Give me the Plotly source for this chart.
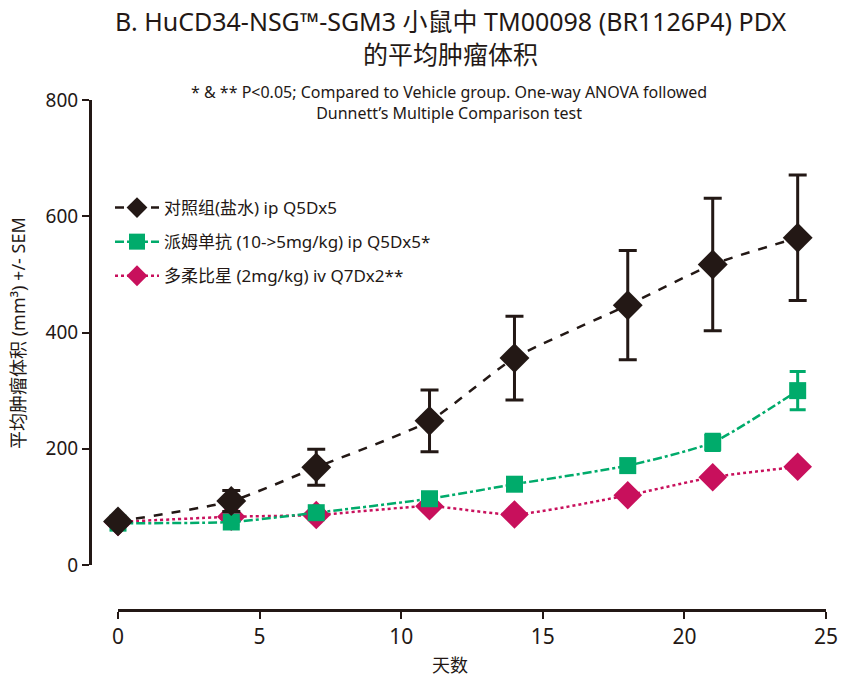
import plotly.graph_objects as go

days = [0, 4, 7, 11, 14, 18, 21, 24]

vehicle_mean = [75, 110, 168, 248, 356, 447, 517, 563]
vehicle_err = [6, 18, 31, 53, 72, 94, 114, 108]

pemb_mean = [72, 74, 90, 114, 139, 171, 211, 300]
pemb_err = [4, 5, 6, 8, 9, 11, 14, 33]

doxo_mean = [74, 83, 86, 101, 87, 120, 151, 169]

names = [
    "对照组(盐水) ip Q5Dx5",
    "派姆单抗 (10->5mg/kg) ip Q5Dx5*",
    "多柔比星 (2mg/kg) iv Q7Dx2**",
]
colors = ["#231815", "#00AB6B", "#C8105C"]

title_text = "B. HuCD34-NSG™-SGM3 小鼠中 TM00098 (BR1126P4) PDX<br>的平均肿瘤体积"
subtitle_text = "* & ** P<0.05; Compared to Vehicle group. One-way ANOVA followed<br>Dunnett’s Multiple Comparison test"
y_title = "平均肿瘤体积 (mm³) +/- SEM"
x_title = "天数"

FONT = "Noto Sans, Noto Sans CJK SC, sans-serif"
INK = "#231815"

fig = go.Figure()

# draw order: magenta bottom, then green, then black on top
fig.add_trace(go.Scatter(
    x=days, y=doxo_mean, name=names[2], mode="lines+markers",
    line=dict(color=colors[2], width=2.5, dash="dot", shape="spline", smoothing=0.6),
    marker=dict(symbol="diamond", size=22, color=colors[2]),
    cliponaxis=False, legendgroup="c", legendrank=3,
))
fig.add_trace(go.Scatter(
    x=days, y=pemb_mean, name=names[1], mode="lines+markers",
    line=dict(color=colors[1], width=2.5, dash="dashdot", shape="spline", smoothing=0.6),
    marker=dict(symbol="square", size=17, color=colors[1]),
    error_y=dict(type="data", array=pemb_err, color=colors[1], thickness=3, width=8),
    cliponaxis=False, legendgroup="b", legendrank=2,
))
fig.add_trace(go.Scatter(
    x=days, y=vehicle_mean, name=names[0], mode="lines+markers",
    line=dict(color=colors[0], width=2.5, dash="dash", shape="spline", smoothing=0.6),
    marker=dict(symbol="diamond", size=23, color=colors[0]),
    error_y=dict(type="data", array=vehicle_err, color=colors[0], thickness=3, width=9),
    cliponaxis=False, legendgroup="a", legendrank=1,
))

L, R, T, B = 90, 17, 100, 68
W, H = 843, 678
pw = W - L - R
ph = H - T - B


def px_x(p):
    return (p - L) / pw


def px_y(p):
    return (H - B - p) / ph


fig.update_layout(
    width=W, height=H,
    margin=dict(l=L, r=R, t=T, b=B),
    paper_bgcolor="white", plot_bgcolor="white",
    font=dict(family=FONT, color=INK),
    showlegend=True,
    legend=dict(x=px_x(110), y=px_y(190), xanchor="left", yanchor="top",
                font=dict(size=17, family=FONT, color=INK),
                bgcolor="rgba(0,0,0,0)", tracegroupgap=9, itemsizing="trace",
                itemwidth=44, traceorder="grouped"),
    xaxis=dict(range=[0, 25], domain=[px_x(118), 1], anchor="free", position=0,
               tickvals=[0, 5, 10, 15, 20, 25], ticks="outside", ticklen=7, tickwidth=2,
               tickcolor=INK, showline=True, linecolor=INK, linewidth=3,
               showgrid=False, zeroline=False, automargin=False,
               tickfont=dict(size=21, family=FONT, color=INK)),
    yaxis=dict(range=[0, 800], domain=[px_y(565), 1], anchor="free", position=0,
               tickvals=[0, 200, 400, 600, 800], ticks="outside", ticklen=7, tickwidth=2,
               tickcolor=INK, showline=True, linecolor=INK, linewidth=3,
               showgrid=False, zeroline=False, automargin=False,
               tickfont=dict(size=19, family=FONT, color=INK)),
    annotations=[
        dict(text=title_text, xref="paper", yref="paper", x=px_x(450), y=px_y(38),
             xanchor="center", yanchor="middle", showarrow=False,
             font=dict(size=25, family=FONT, color=INK)),
        dict(text=subtitle_text, xref="paper", yref="paper", x=px_x(449), y=px_y(102),
             xanchor="center", yanchor="middle", showarrow=False,
             font=dict(size=16, family=FONT, color=INK)),
        dict(text=y_title, xref="paper", yref="paper", x=px_x(18), y=px_y(333),
             xanchor="center", yanchor="middle", showarrow=False, textangle=-90,
             font=dict(size=18, family=FONT, color=INK)),
        dict(text=x_title, xref="paper", yref="paper", x=px_x(450), y=px_y(665),
             xanchor="center", yanchor="middle", showarrow=False,
             font=dict(size=18, family=FONT, color=INK)),
    ],
)

fig.write_html("out.html")
